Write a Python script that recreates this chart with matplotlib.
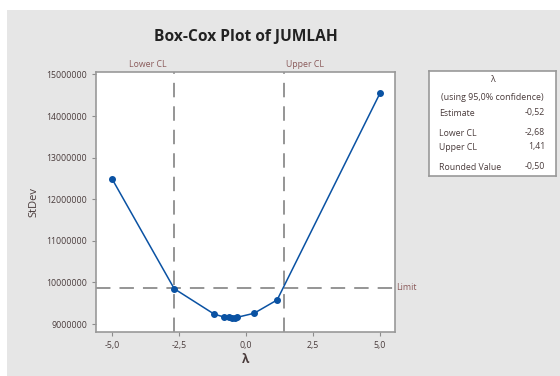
import matplotlib
matplotlib.use('Agg')
import matplotlib.pyplot as plt
from matplotlib.patches import Rectangle

# data
lam = [-5.0, -2.68, -1.19, -0.82, -0.62, -0.52, -0.42, -0.32, 0.30, 1.16, 5.0]
stdev = [12490000, 9850000, 9240000, 9170000, 9160000, 9155000, 9158000, 9165000, 9260000, 9580000, 14550000]
lower_cl = -2.68
upper_cl = 1.41
limit = 9870000
yticks = [9000000, 10000000, 11000000, 12000000, 13000000, 14000000, 15000000]
xticks = [-5.0, -2.5, 0.0, 2.5, 5.0]
xtick_labels = ['-5,0', '-2,5', '0,0', '2,5', '5,0']
box_rows = [('Estimate', '-0,52'), ('Lower CL', '-2,68'), ('Upper CL', '1,41'), ('Rounded Value', '-0,50')]

plt.rcParams['font.family'] = ['Open Sans', 'DejaVu Sans']
txt = '#4a3c3c'
red = '#8a5a5a'
blue = '#0a52a3'
grey = '#8c8c8c'

fig = plt.figure(figsize=(5.6, 3.76), dpi=100, facecolor='white')
fig.patches.append(Rectangle((7/560, 0), 1, 1 - 10/376, transform=fig.transFigure,
                             facecolor='#e6e6e6', edgecolor='none', zorder=-10))

ax = fig.add_axes([96/560, 44/376, 299/560, 260/376])
ax.set_facecolor('white')
ax.plot(lam, stdev, color=blue, lw=1.1, marker='o', ms=4, zorder=3)
ax.axvline(lower_cl, color=grey, lw=1.3, dashes=(8, 5))
ax.axvline(upper_cl, color=grey, lw=1.3, dashes=(8, 5))
ax.axhline(limit, color=grey, lw=1.3, dashes=(8, 5))

ax.set_xlim(-5.6, 5.56)
ax.set_ylim(8810000, 15060000)
ax.set_xticks(xticks)
ax.set_xticklabels(xtick_labels)
ax.set_yticks(yticks)
ax.set_yticklabels([str(v) for v in yticks])
ax.tick_params(labelsize=6.3, colors=grey, labelcolor=txt, length=3, width=0.8)
for s in ax.spines.values():
    s.set_color('#999999')
    s.set_linewidth(1.2)

ax.set_xlabel('λ', fontsize=8.5, color=txt, fontweight='bold', labelpad=2)
ax.set_ylabel('StDev', fontsize=8, color=txt, labelpad=5)
ax.set_title('Box-Cox Plot of JUMLAH', fontsize=11.2, color='#222222', fontweight='bold', pad=22)

ax.text(lower_cl - 0.3, 1.012, 'Lower CL', transform=ax.get_xaxis_transform(), ha='right',
        va='bottom', fontsize=6.3, color=red)
ax.text(upper_cl + 0.1, 1.012, 'Upper CL', transform=ax.get_xaxis_transform(), ha='left',
        va='bottom', fontsize=6.3, color=red)
ax.text(1.005, limit, 'Limit', transform=ax.get_yaxis_transform(), ha='left',
        va='center', fontsize=6.3, color=red)

# info box
bx = fig.add_axes([429/560, 200/376, 127/560, 105/376])
bx.set_xticks([])
bx.set_yticks([])
bx.set_xlim(0, 127)
bx.set_ylim(105, 0)
for s in bx.spines.values():
    s.set_color('#999999')
    s.set_linewidth(1.2)
bx.text(63.5, 9, 'λ', ha='center', va='center', fontsize=6.5, color=txt)
bx.text(63.5, 26, '(using 95,0% confidence)', ha='center', va='center', fontsize=6.4, color=txt)
row_y = [42, 62, 76, 96]
for (lab, val), yy in zip(box_rows, row_y):
    bx.text(10, yy, lab, ha='left', va='center', fontsize=6.3, color=txt)
    bx.text(116, yy, val, ha='right', va='center', fontsize=6.3, color=txt)

fig.savefig('out.png', dpi=100, facecolor=fig.get_facecolor())
